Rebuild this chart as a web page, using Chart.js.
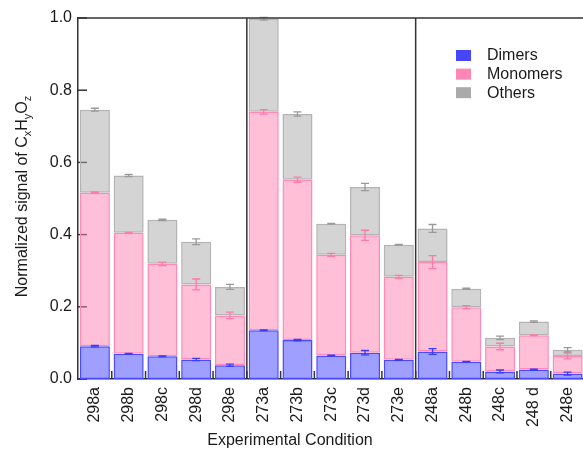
<!DOCTYPE html>
<html>
<head>
<meta charset="utf-8">
<script src="https://cdn.jsdelivr.net/npm/chart.js@4/dist/chart.umd.min.js"></script>
<style>
  html, body { margin: 0; padding: 0; background: #fff; overflow: hidden; }
  #wrap { width: 590px; height: 450px; }
</style>
</head>
<body>
<div id="wrap"><canvas id="c" width="590" height="450"></canvas></div>
<script>
// Experimental conditions (temperature + run letter)
const conditions = ['298a','298b','298c','298d','298e','273a','273b','273c','273d','273e','248a','248b','248c','248 d','248e'];

// Stacked segment contributions of each compound class
const dimers   = [0.091,0.070,0.063,0.054,0.038,0.135,0.108,0.065,0.073,0.053,0.076,0.048,0.021,0.026,0.015];
const monomers = [0.425,0.335,0.256,0.208,0.138,0.605,0.444,0.279,0.325,0.230,0.248,0.151,0.069,0.095,0.049];
const others   = [0.230,0.159,0.122,0.118,0.079,0.258,0.182,0.086,0.134,0.089,0.093,0.051,0.024,0.038,0.017];

// Uncertainties at the top of each segment
const dimersErr   = [0.002,0.001,0.001,0.003,0.003,0.001,0.002,0.001,0.006,0.001,0.008,0.001,0.004,0.001,0.004];
const monomersErr = [0.002,0.001,0.005,0.015,0.009,0.006,0.007,0.004,0.014,0.004,0.018,0.004,0.009,0.001,0.008];
const othersErr   = [0.004,0.003,0.002,0.008,0.007,0.004,0.006,0.001,0.010,0.001,0.011,0.002,0.005,0.002,0.006];

// Y axis tick values
const yTicks = [0.0, 0.2, 0.4, 0.6, 0.8, 1.0];

// Boundaries between temperature groups (index of first bar in the next group)
const groupBreaks = [5, 10];

const AXIS = '#333333';
const TEXT = '#1a1a1a';
const FONT = '"Liberation Sans", Arial, sans-serif';

const series = [
  { label: 'Dimers',   data: dimers,   err: dimersErr,   fill: 'rgba(64,64,255,0.5)',   line: '#4a4aff', swatch: '#4646ff', errColor: '#3a3aff' },
  { label: 'Monomers', data: monomers, err: monomersErr, fill: 'rgba(255,128,176,0.5)', line: '#ff8ab8', swatch: '#ff86b4', errColor: '#ff7aaa' },
  { label: 'Others',   data: others,   err: othersErr,   fill: 'rgba(170,170,170,0.5)', line: '#b4b4b4', swatch: '#aaaaaa', errColor: '#9a9a9a' }
];

// Inward tick marks, drawn beneath the bars
const tickMarks = {
  id: 'tickMarks',
  beforeDatasetsDraw(chart) {
    const { ctx, chartArea: a, scales: { x, y } } = chart;
    ctx.save();
    ctx.strokeStyle = AXIS;
    ctx.lineWidth = 1.5;
    yTicks.forEach(v => {
      const py = y.getPixelForValue(v);
      ctx.beginPath(); ctx.moveTo(a.left, py); ctx.lineTo(a.left + 9, py); ctx.stroke();
    });
    for (let i = 1; i < conditions.length; i++) {
      const px = (x.getPixelForValue(i - 1) + x.getPixelForValue(i)) / 2;
      ctx.beginPath(); ctx.moveTo(px, a.bottom); ctx.lineTo(px, a.bottom - 8); ctx.stroke();
    }
    ctx.restore();
  }
};

// Error bars, frame lines, legend and axis titles
const overlay = {
  id: 'overlay',
  afterDatasetsDraw(chart) {
    const { ctx, chartArea: a, scales: { x, y } } = chart;
    ctx.save();
    // error bars at the cumulative top of each segment
    const cum = conditions.map(() => 0);
    series.forEach(s => {
      ctx.strokeStyle = s.errColor;
      ctx.lineWidth = 1.3;
      s.data.forEach((v, i) => {
        cum[i] += v;
        const px = x.getPixelForValue(i);
        const hi = y.getPixelForValue(cum[i] + s.err[i]);
        const lo = y.getPixelForValue(cum[i] - s.err[i]);
        ctx.beginPath();
        ctx.moveTo(px, hi); ctx.lineTo(px, lo);
        ctx.moveTo(px - 4, hi); ctx.lineTo(px + 4, hi);
        ctx.moveTo(px - 4, lo); ctx.lineTo(px + 4, lo);
        ctx.stroke();
      });
    });

    // top frame line and group separators
    ctx.strokeStyle = AXIS;
    ctx.lineWidth = 1.5;
    ctx.beginPath(); ctx.moveTo(a.left, a.top); ctx.lineTo(a.right + 10, a.top); ctx.stroke();
    groupBreaks.forEach(k => {
      const px = (x.getPixelForValue(k - 1) + x.getPixelForValue(k)) / 2;
      ctx.beginPath(); ctx.moveTo(px, a.top); ctx.lineTo(px, a.bottom); ctx.stroke();
    });

    // legend
    ctx.font = '16px ' + FONT;
    ctx.textBaseline = 'middle';
    ctx.textAlign = 'left';
    series.forEach((s, k) => {
      const cy = 55.5 + k * 18.6;
      ctx.fillStyle = s.swatch;
      ctx.fillRect(456, cy - 5.5, 15, 11);
      ctx.fillStyle = TEXT;
      ctx.fillText(s.label, 487, cy + 0.5);
    });

    // x axis title
    ctx.textAlign = 'center';
    ctx.textBaseline = 'alphabetic';
    ctx.fillText('Experimental Condition', 290, 445);

    // y axis title with subscripts
    const parts = [
      ['Normalized signal of C', false], ['x', true], ['H', false], ['y', true], ['O', false], ['z', true]
    ];
    const big = '16px ' + FONT, small = '11px ' + FONT;
    let total = 0;
    parts.forEach(([t, sub]) => { ctx.font = sub ? small : big; total += ctx.measureText(t).width; });
    ctx.translate(27, (a.top + a.bottom) / 2 - 2);
    ctx.rotate(-Math.PI / 2);
    ctx.textAlign = 'left';
    let cx = -total / 2;
    parts.forEach(([t, sub]) => {
      ctx.font = sub ? small : big;
      ctx.fillText(t, cx, sub ? 4 : 0);
      cx += ctx.measureText(t).width;
    });
    ctx.restore();
  }
};

new Chart(document.getElementById('c'), {
  type: 'bar',
  data: {
    labels: conditions,
    datasets: series.map(s => ({
      label: s.label,
      data: s.data,
      backgroundColor: s.fill,
      borderColor: s.line,
      borderWidth: 1.5,
      borderSkipped: false,
      barPercentage: 0.89,
      categoryPercentage: 1.0
    }))
  },
  options: {
    responsive: false,
    animation: false,
    devicePixelRatio: 1,
    layout: { padding: { left: 0, right: 5.5, top: 18, bottom: 0 } },
    plugins: { legend: { display: false }, tooltip: { enabled: false } },
    scales: {
      x: {
        stacked: true,
        grid: { display: false, drawTicks: false },
        border: { display: true, color: AXIS, width: 1.5 },
        ticks: { minRotation: 90, maxRotation: 90, padding: 8, color: TEXT, font: { family: FONT, size: 16 } },
        afterFit(s) { s.height = 71; s.paddingLeft = 0; s.paddingRight = 0; }
      },
      y: {
        stacked: true,
        min: 0, max: 1.0,
        grid: { display: false, drawTicks: false },
        border: { display: true, color: AXIS, width: 1.5 },
        afterBuildTicks(s) { s.ticks = yTicks.map(v => ({ value: v })); },
        ticks: { padding: 6, color: TEXT, font: { family: FONT, size: 16 }, callback: v => v.toFixed(1) },
        afterFit(s) { s.width = 78; s.paddingTop = 0; s.paddingBottom = 0; }
      }
    }
  },
  plugins: [tickMarks, overlay]
});
</script>
</body>
</html>
